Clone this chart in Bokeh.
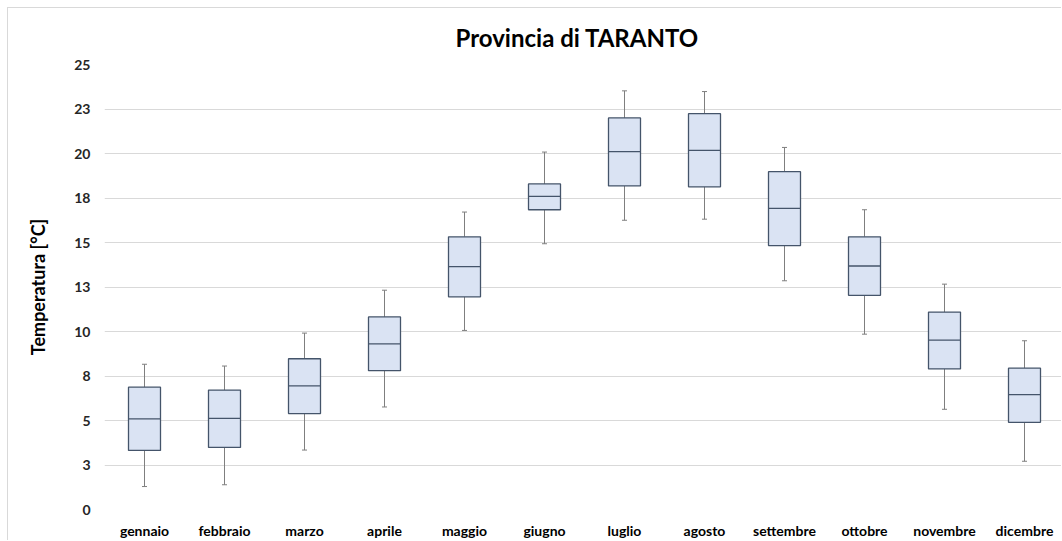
from bokeh.plotting import figure
from bokeh.models import Range1d, FixedTicker, ColumnDataSource, Whisker, Title
from bokeh.transform import dodge
from bokeh.embed import file_html
from bokeh.resources import INLINE

months = ["gennaio", "febbraio", "marzo", "aprile", "maggio", "giugno",
          "luglio", "agosto", "settembre", "ottobre", "novembre", "dicembre"]
w_low = [1.29, 1.39, 3.34, 5.76, 10.06, 14.93, 16.25, 16.31, 12.85, 9.85, 5.63, 2.71]
q1 = [3.32, 3.49, 5.39, 7.80, 11.95, 16.84, 18.18, 18.13, 14.83, 12.03, 7.90, 4.90]
median = [5.09, 5.12, 6.95, 9.31, 13.64, 17.59, 20.10, 20.17, 16.92, 13.68, 9.51, 6.45]
q3 = [6.87, 6.71, 8.47, 10.82, 15.32, 18.29, 22.00, 22.24, 18.98, 15.32, 11.09, 7.94]
w_high = [8.16, 8.06, 9.91, 12.32, 16.71, 20.08, 23.52, 23.48, 20.34, 16.84, 12.66, 9.48]

y_ticks = [0, 2.5, 5, 7.5, 10, 12.5, 15, 17.5, 20, 22.5, 25]
y_tick_labels = ["0", "3", "5", "8", "10", "13", "15", "18", "20", "23", "25"]

xs = list(range(len(months)))
src = ColumnDataSource(dict(x=xs, low=w_low, q1=q1, med=median, q3=q3, high=w_high))

BOX_W = 0.4

p = figure(width=1054, height=533, output_backend="svg", toolbar_location=None,
           x_range=Range1d(-0.5, 11.475), y_range=Range1d(0, 25),
           min_border_left=96, min_border_right=0, min_border_top=55,
           min_border_bottom=30)
p.title = Title(text="Provincia di TARANTO", align="left",
                text_font="Lato", text_font_size="24px", text_font_style="bold",
                text_color="#000000", offset=351, standoff=25)
p.outline_line_color = None
p.background_fill_color = "white"
p.border_fill_color = "white"
p.styles = {"margin-left": "7px", "margin-top": "7px",
            "border-left": "1px solid #d9d9d9", "border-top": "1px solid #d9d9d9"}

# whiskers
lw = Whisker(source=src, base="x", lower="low", upper="q1", dimension="height",
             line_color="#7f7f7f", line_width=1)
lw.upper_head = None
lw.lower_head.size = 5
lw.lower_head.line_color = "#7f7f7f"
uw = Whisker(source=src, base="x", lower="q3", upper="high", dimension="height",
             line_color="#7f7f7f", line_width=1)
uw.lower_head = None
uw.upper_head.size = 5
uw.upper_head.line_color = "#7f7f7f"
p.add_layout(lw)
p.add_layout(uw)

p.vbar(x="x", width=BOX_W, bottom="q1", top="q3", source=src,
       fill_color="#dae3f3", line_color="#44546a", line_width=1.3)
p.segment(x0=dodge("x", -BOX_W / 2), x1=dodge("x", BOX_W / 2), y0="med", y1="med",
          source=src, line_color="#44546a", line_width=1.3)

# axes
p.yaxis.ticker = FixedTicker(ticks=y_ticks)
p.yaxis.major_label_overrides = {t: l for t, l in zip(y_ticks, y_tick_labels)}
p.yaxis.axis_label = "Temperatura [°C]"
p.yaxis.axis_label_text_font = "Lato"
p.yaxis.axis_label_text_font_size = "18px"
p.yaxis.axis_label_text_font_style = "bold"
p.yaxis.axis_label_text_color = "#000000"
p.yaxis.axis_label_standoff = 22
p.yaxis.major_label_text_font = "Lato"
p.yaxis.major_label_text_font_size = "14px"
p.yaxis.major_label_text_font_style = "bold"
p.yaxis.major_label_text_color = "#262626"
p.yaxis.major_label_standoff = 14

p.xaxis.ticker = FixedTicker(ticks=xs)
p.xaxis.major_label_overrides = {i: m for i, m in zip(xs, months)}
p.xaxis.major_label_text_font = "Lato"
p.xaxis.major_label_text_font_size = "14px"
p.xaxis.major_label_text_font_style = "bold"
p.xaxis.major_label_text_color = "#000000"
p.xaxis.major_label_standoff = 12

for ax in (p.xaxis, p.yaxis):
    ax.axis_line_color = None
    ax.major_tick_line_color = None
    ax.minor_tick_line_color = None
    ax.major_tick_out = 0
    ax.major_tick_in = 0
    ax.minor_tick_out = 0
    ax.minor_tick_in = 0

p.xgrid.grid_line_color = None
p.ygrid.ticker = FixedTicker(ticks=y_ticks)
p.ygrid.grid_line_color = "#d9d9d9"
p.ygrid.grid_line_width = 1

open("out.html", "w").write(file_html(p, INLINE))
